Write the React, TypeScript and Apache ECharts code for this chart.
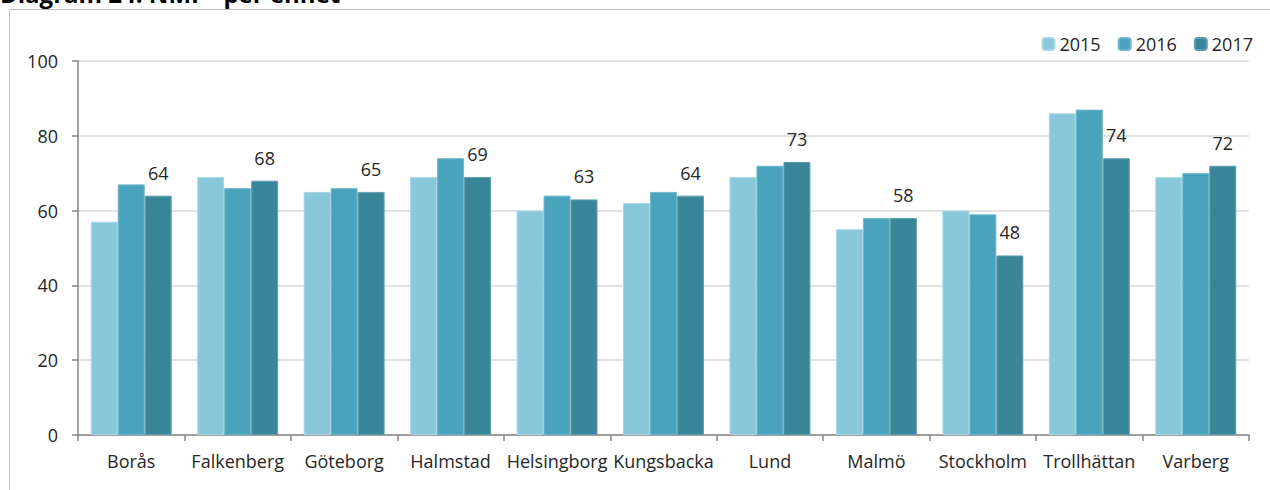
import React, { useEffect, useRef } from "react";
import * as echarts from "echarts";

const categories = ["Borås", "Falkenberg", "Göteborg", "Halmstad", "Helsingborg", "Kungsbacka", "Lund", "Malmö", "Stockholm", "Trollhättan", "Varberg"];
const seriesNames = ["2015", "2016", "2017"];
const values2015 = [57, 69, 65, 69, 60, 62, 69, 55, 60, 86, 69];
const values2016 = [67, 66, 66, 74, 64, 65, 72, 58, 59, 87, 70];
const values2017 = [64, 68, 65, 69, 63, 64, 73, 58, 48, 74, 72];
const yTicks = [0, 20, 40, 60, 80, 100];
const colors = ["#89c7db", "#49a3bc", "#3a8699"];
const borderColors = ["#a9d6e4", "#6fb6ca", "#5e9fae"];

const FONT = "'Open Sans', 'Noto Sans', sans-serif";

export default function App() {
  const ref = useRef<HTMLDivElement>(null);
  useEffect(() => {
    document.body.style.margin = "0";
    const chart = echarts.init(ref.current!, null, { renderer: "svg" });
    const data = [values2015, values2016, values2017];
    chart.setOption({
      animation: false,
      backgroundColor: "#ffffff",
      textStyle: { fontFamily: FONT },
      graphic: [
        {
          type: "rect",
          shape: { x: 9.5, y: 9.5, width: 1280, height: 500 },
          style: { fill: "none", stroke: "#bfbfbf", lineWidth: 1 },
          silent: true,
        },
        {
          type: "text",
          x: 0,
          y: 5,
          style: {
            text: "Diagram 24: NMI – per enhet",
            fontFamily: FONT,
            fontWeight: "bold",
            fontSize: 24,
            fill: "#000000",
            verticalAlign: "bottom",
            align: "left",
          },
        },
      ],
      legend: {
        right: 12,
        top: 30,
        itemWidth: 12,
        itemHeight: 12,
        itemGap: 17,
        textStyle: { fontSize: 18, color: "#262626", fontFamily: FONT },
        data: seriesNames,
      },
      grid: { left: 78, right: 21, top: 61, bottom: 55 },
      xAxis: {
        type: "category",
        data: categories,
        boundaryGap: true,
        axisLine: { lineStyle: { color: "#868686", width: 1.5 } },
        axisTick: { show: true, length: 6, lineStyle: { color: "#868686", width: 1.5 } },
        axisLabel: { fontSize: 18, color: "#262626", margin: 17, interval: 0, fontFamily: FONT },
      },
      yAxis: {
        type: "value",
        min: yTicks[0],
        max: yTicks[yTicks.length - 1],
        interval: 20,
        axisLine: { show: true, lineStyle: { color: "#868686", width: 1.5 } },
        axisTick: { show: true, length: 6, lineStyle: { color: "#868686", width: 1.5 } },
        axisLabel: { fontSize: 18, color: "#262626", margin: 20, fontFamily: FONT },
        splitLine: { lineStyle: { color: "#d9d9d9", width: 1.5 } },
      },
      series: seriesNames.map((name, i) => ({
        name,
        type: "bar",
        data: data[i],
        barGap: "0%",
        barCategoryGap: "24%",
        itemStyle: { color: colors[i], borderColor: borderColors[i], borderWidth: 1 },
        label:
          i === 2
            ? {
                show: true,
                position: "top",
                distance: 14,
                fontSize: 18,
                color: "#262626",
                fontFamily: FONT,
              }
            : { show: false },
      })),
    });
    return () => chart.dispose();
  }, []);
  return <div ref={ref} style={{ width: 1270, height: 490 }} />;
}
